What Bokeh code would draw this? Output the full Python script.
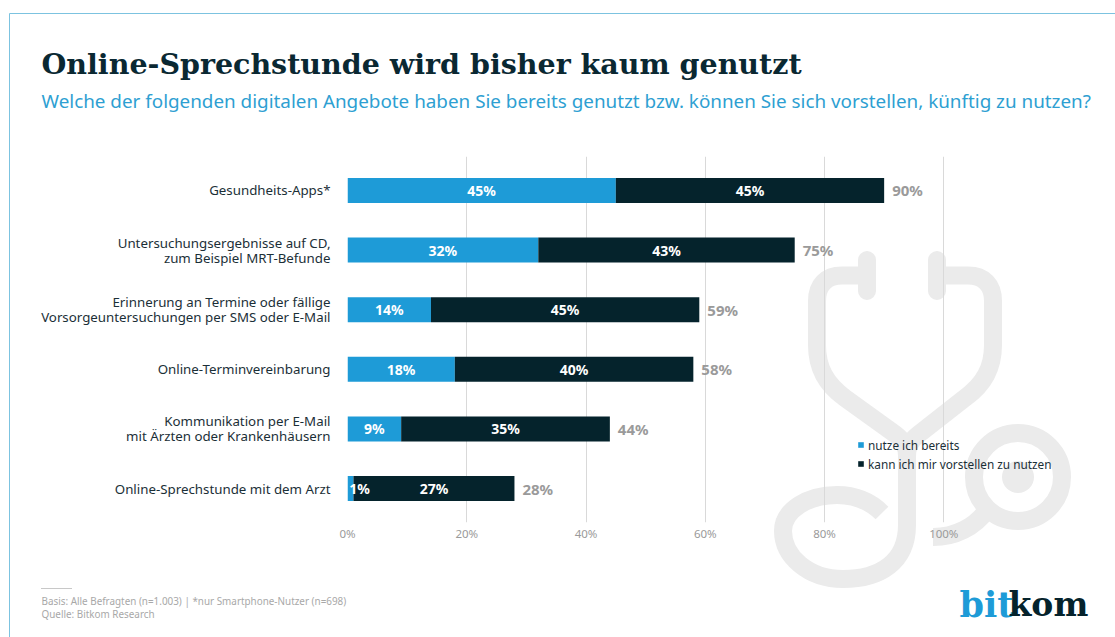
import numpy as np
from urllib.parse import quote
from bokeh.plotting import figure
from bokeh.models import FactorRange, Range1d, Label, Legend, LegendItem, FixedTicker, ColumnDataSource
from bokeh.core.properties import value
from bokeh.embed import file_html
from bokeh.resources import INLINE

categories = ["Gesundheits-Apps*",
              "Untersuchungsergebnisse auf CD,\nzum Beispiel MRT-Befunde",
              "Erinnerung an Termine oder fällige\nVorsorgeuntersuchungen per SMS oder E-Mail",
              "Online-Terminvereinbarung",
              "Kommunikation per E-Mail\nmit Ärzten oder Krankenhäusern",
              "Online-Sprechstunde mit dem Arzt"]
used = [45, 32, 14, 18, 9, 1]
imagine = [45, 43, 45, 40, 35, 27]
totals = [90, 75, 59, 58, 44, 28]
series_names = ["nutze ich bereits", "kann ich mir vorstellen zu nutzen"]
x_ticks = [0, 20, 40, 60, 80, 100]
title = "Online-Sprechstunde wird bisher kaum genutzt"
subtitle = "Welche der folgenden digitalen Angebote haben Sie bereits genutzt bzw. können Sie sich vorstellen, künftig zu nutzen?"
notes = ["Basis: Alle Befragten (n=1.003) | *nur Smartphone-Nutzer (n=698)", "Quelle: Bitkom Research"]

BLUE, DARK, GREY = "#1e9bd7", "#05232c", "#9a9a9a"
FONT = "Noto Sans"
W, H = 1115, 637

# decoration behind the chart: frame lines, footer rule and stethoscope watermark
WM = "#ebebeb"
decor = f"""<svg xmlns='http://www.w3.org/2000/svg' width='{W}' height='{H}' viewBox='0 0 {W} {H}'>
<g fill='none' stroke='{WM}' stroke-width='18'>
<path stroke-linecap='round' d='M867 291V260M937 291V260'/>
<path d='M867 275.5H842C826 275.5 817 285 817 301V345C817 368 826 384 845 398L895 434C903 440 907 446 907 456V525C907 562 880 579 843 579C808 579 783 556 783 531C783 510 808 495 837 495C856 495 871 502 882 513'/>
<path d='M937 275.5H968C984 275.5 993 285 993 301V345C993 368 984 384 965 398L919 434C911 440 907 446 907 456'/>
<path d='M933 537C955 537 975 527 987 510'/>
<circle cx='1018' cy='477' r='44'/>
</g>
<circle cx='1018' cy='477' r='16' fill='{WM}'/>
<path d='M9.5 {H}V13.5H{W}' fill='none' stroke='#7cc3e0' stroke-width='1'/>
<path d='M41 588.5H72' fill='none' stroke='#c8c8c8' stroke-width='1'/>
</svg>"""

p = figure(width=W, height=H, output_backend="svg", toolbar_location=None,
           x_range=Range1d(0, (W - 348) / 5.955),
           y_range=FactorRange(factors=categories[::-1], range_padding=0.07, range_padding_units="absolute"),
           frame_width=W - 347, frame_height=366,
           min_border_left=347, min_border_right=0, min_border_top=156, min_border_bottom=115,
           outline_line_color=None, background_fill_color=None, border_fill_color=None,
           styles={"background-image": f'url("data:image/svg+xml,{quote(decor)}")',
                   "background-repeat": "no-repeat", "background-color": "white"})
p.ygrid.visible = False
p.xgrid.grid_line_color = "#d9d9d9"
p.xgrid.ticker = FixedTicker(ticks=x_ticks)
p.xaxis.ticker = FixedTicker(ticks=x_ticks)
p.xaxis.major_label_overrides = {t: f"{t}%" for t in x_ticks}
for ax in (p.xaxis[0], p.yaxis[0]):
    ax.axis_line_color = None
    ax.major_tick_line_color = None
    ax.minor_tick_line_color = None
    ax.major_tick_out = 0
p.xaxis.major_label_text_color = GREY
p.xaxis.major_label_text_font = FONT
p.xaxis.major_label_text_font_size = "11.5px"
p.xaxis.major_label_standoff = 3
p.yaxis.major_label_text_color = "#1b2f37"
p.yaxis.major_label_text_font = FONT
p.yaxis.major_label_text_font_size = "13.3px"
p.yaxis.major_label_standoff = 17
p.yaxis.major_label_text_line_height = 0.84

src = ColumnDataSource(dict(y=categories, used=used, imagine=imagine))
rs = p.hbar_stack(["used", "imagine"], y="y", height=0.42, source=src, color=[BLUE, DARK], line_color=None)

mid_u = [u / 2 for u in used]
mid_i = [u + v / 2 for u, v in zip(used, imagine)]
off_u = [9 if u < 3 else 0 for u in used]
ends = [u + v for u, v in zip(used, imagine)]
common = dict(text_color="white", text_font=value(FONT), text_font_style="bold", text_font_size="14px",
              text_align="center", text_baseline="middle")
p.text(x=mid_u, y=categories, text=[f"{u}%" for u in used], x_offset=off_u, **common)
p.text(x=mid_i, y=categories, text=[f"{v}%" for v in imagine], **common)
p.text(x=ends, y=categories, text=[f"{v}%" for v in totals], x_offset=8, text_color=GREY, text_font=value(FONT),
       text_font_style="bold", text_font_size="15px", text_align="left", text_baseline="middle")

legend = Legend(items=[LegendItem(label=n, renderers=[r]) for n, r in zip(series_names, rs)],
                location=(510, 49), orientation="vertical", border_line_color=None, background_fill_alpha=0,
                glyph_width=7, glyph_height=7, label_standoff=4, spacing=0, padding=0, margin=0,
                label_text_font=FONT, label_text_font_size="11.8px", label_text_color="#1b2f37", label_height=19)
p.add_layout(legend, "center")


def lab(side, x, y, text, **kw):
    p.add_layout(Label(x=x, y=y, x_units="canvas", y_units="canvas", text=text, text_baseline="middle", **kw), side)


lab("above", 41, 63, title, text_font="DejaVu Serif", text_font_style="bold", text_font_size="28.5px", text_color="#0a2832")
lab("above", 41, 100, subtitle, text_font="Noto Sans", text_font_size="18.85px", text_color="#2e9fd2")
lab("below", 41, 600, notes[0], text_font=FONT, text_font_size="9.9px", text_color="#a8a8a8")
lab("below", 41, 613, notes[1], text_font=FONT, text_font_size="9.9px", text_color="#a8a8a8")
lab("below", 959, 604, "bit", text_font="DejaVu Serif", text_font_style="bold", text_font_size="35px", text_color=BLUE)
lab("below", 1008, 604, "kom", text_font="DejaVu Serif", text_font_style="bold", text_font_size="33px", text_color=DARK)

open("out.html", "w").write(file_html(p, INLINE))
